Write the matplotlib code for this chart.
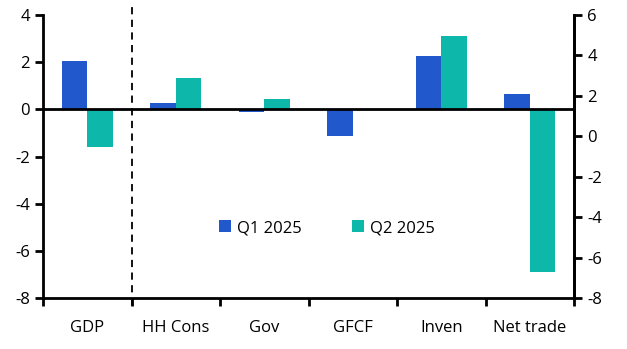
import numpy as np
import matplotlib
matplotlib.use("Agg")
import matplotlib.pyplot as plt

plt.rcParams['font.family'] = ['Open Sans', 'DejaVu Sans']
plt.rcParams['axes.unicode_minus'] = False

# contributions to GDP growth, % points
categories = ["GDP", "HH Cons", "Gov", "GFCF", "Inven", "Net trade"]
q1_2025 = [2.03, 0.25, -0.11, -1.13, 2.25, 0.66]
q2_2025 = [-1.6, 1.31, 0.42, 0.0, 3.1, -6.9]

blue = "#2158CB"
teal = "#0DB8AA"

fig = plt.figure(figsize=(6.27, 3.49), dpi=100)
ax = fig.add_axes([0.0686, 0.146, 0.8469, 0.811])

x = np.arange(len(categories))
w = 0.29
ax.bar(x - w / 2, q1_2025, w, color=blue, label="Q1 2025", zorder=2)
ax.bar(x + w / 2, q2_2025, w, color=teal, label="Q2 2025", zorder=2)

ax.set_xlim(-0.5, len(categories) - 0.5)
ax.set_ylim(-8, 4)
ax.set_yticks(np.arange(-8, 5, 2))
ax.axhline(0, color="black", lw=2, zorder=3)

# dashed separator between GDP and its components
ax.plot([0.5, 0.5], [-8.3, 4.4], color="black", lw=1.3, ls=(0, (4, 3)),
        clip_on=False, zorder=3)

ax.set_xticks(np.arange(len(categories) + 1) - 0.5)
ax.set_xticklabels([])
ax.set_xticks(x, minor=True)
ax.set_xticklabels(categories, minor=True)
ax.tick_params(axis="x", which="major", direction="out", length=6, width=2)
ax.tick_params(axis="x", which="minor", length=0, pad=16, labelsize=12)
ax.tick_params(axis="y", direction="out", length=6, width=2, labelsize=12)

for s in ["top"]:
    ax.spines[s].set_visible(False)
for s in ["left", "right", "bottom"]:
    ax.spines[s].set_linewidth(2)

ax2 = ax.twinx()
ax2.set_ylim(-8, 6)
ax2.set_yticks(np.arange(-8, 7, 2))
ax2.tick_params(axis="y", direction="out", length=6, width=2, labelsize=12)
for s in ["top", "left", "bottom"]:
    ax2.spines[s].set_visible(False)
ax2.spines["right"].set_linewidth(2)

ax.legend(loc="center", bbox_to_anchor=(0.535, 0.247), ncol=2, frameon=False,
          fontsize=12, handlelength=0.7, handleheight=0.7, handletextpad=0.4,
          columnspacing=3.0)

fig.savefig("out.png", dpi=100)
